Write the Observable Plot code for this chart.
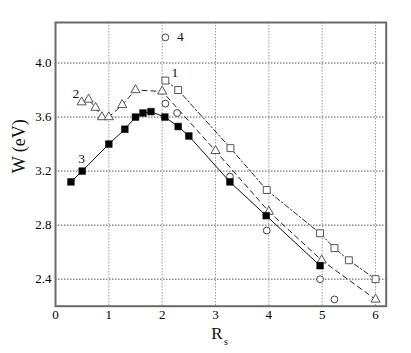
<!DOCTYPE html>
<html>
<head>
<meta charset="utf-8">
<script src="https://cdn.jsdelivr.net/npm/d3@7"></script>
<script src="https://cdn.jsdelivr.net/npm/@observablehq/plot@0.6"></script>
<style>
  html, body { margin: 0; padding: 0; background: white; }
  #chart svg, #chart svg text { font-family: "Liberation Serif", "Times New Roman", Times, serif !important; }
</style>
</head>
<body>
<div id="chart"></div>
<script>
// Series 1: open squares, dash-dot line
const R1 = [2.06, 2.30, 3.28, 3.96, 4.96, 5.23, 5.50, 6.00];
const W1 = [3.87, 3.80, 3.37, 3.06, 2.74, 2.63, 2.54, 2.40];
// Series 2: open triangles, dashed line
const R2 = [0.49, 0.62, 0.75, 0.87, 1.00, 1.25, 1.50, 2.00, 3.00, 4.00, 4.99, 6.00];
const W2 = [3.71, 3.73, 3.67, 3.60, 3.60, 3.69, 3.80, 3.79, 3.35, 2.90, 2.54, 2.25];
// Series 3: filled squares, solid line
const R3 = [0.29, 0.50, 1.00, 1.30, 1.50, 1.64, 1.79, 2.05, 2.30, 2.50, 3.27, 3.95, 4.96];
const W3 = [3.12, 3.20, 3.40, 3.51, 3.60, 3.63, 3.64, 3.60, 3.53, 3.46, 3.12, 2.87, 2.50];
// Series 4: open circles, no line
const R4 = [2.06, 2.06, 2.28, 3.27, 3.96, 4.96, 5.23];
const W4 = [4.19, 3.70, 3.63, 3.16, 2.76, 2.40, 2.25];

// Curve labels
const labelText = ["1", "2", "3", "4"];
const labelR = [2.24, 0.38, 0.49, 2.34];
const labelW = [3.93, 3.77, 3.29, 4.195];

// Axis ticks
const xTicks = [0, 1, 2, 3, 4, 5, 6];
const yTicks = [2.4, 2.8, 3.2, 3.6, 4.0];

const toRows = (R, W) => R.map((r, i) => ({r, w: W[i]}));
const s1 = toRows(R1, W1), s2 = toRows(R2, W2), s3 = toRows(R3, W3), s4 = toRows(R4, W4);
const labels = labelText.map((t, i) => ({t, r: labelR[i], w: labelW[i]}));

const serif = "Liberation Serif, Times New Roman, serif";

const chart = Plot.plot({
  width: 411,
  height: 353,
  marginLeft: 55,
  marginRight: 25.3,
  marginTop: 22,
  marginBottom: 47.3,
  style: {fontFamily: serif, fontSize: "13px", background: "white", color: "black"},
  x: {domain: [0, 6.2], ticks: xTicks, tickSize: 0, tickPadding: 4, label: null, tickFormat: d => String(d)},
  y: {domain: [2.2, 4.3], ticks: yTicks, tickSize: 0, tickPadding: 4, label: null, tickFormat: d => d.toFixed(1)},
  marks: [
    Plot.ruleX(xTicks.filter(d => d > 0), {stroke: "#9a9a9a", strokeDasharray: "1.5,1.5", strokeWidth: 1}),
    Plot.ruleY(yTicks, {stroke: "#555", strokeDasharray: "1.5,1.5", strokeWidth: 1}),
    Plot.frame({stroke: "#6a6a6a", strokeWidth: 2}),
    Plot.line(s1, {x: "r", y: "w", stroke: "#222", strokeWidth: 1, strokeDasharray: "5,2.5,1.5,2.5"}),
    Plot.line(s2, {x: "r", y: "w", stroke: "#222", strokeWidth: 1, strokeDasharray: "5,4"}),
    Plot.line(s3, {x: "r", y: "w", stroke: "#111", strokeWidth: 1}),
    Plot.dot(s4, {x: "r", y: "w", symbol: "circle", r: 3.4, stroke: "#444", fill: "white", strokeWidth: 1}),
    Plot.dot(s2, {x: "r", y: "w", symbol: "triangle", r: 3.4, stroke: "#555", fill: "white", strokeWidth: 1}),
    Plot.dot(s1, {x: "r", y: "w", symbol: "square", r: 3.9, stroke: "#555", fill: "white", strokeWidth: 1}),
    Plot.dot(s3, {x: "r", y: "w", symbol: "square", r: 3.8, fill: "black", stroke: "black", strokeWidth: 0.5}),
    Plot.text(labels, {x: "r", y: "w", text: "t", fontSize: 13.5, fill: "#111"}),
    Plot.text(["W (eV)"], {frameAnchor: "left", dx: -36, dy: 9, rotate: -90, fontSize: 18, fill: "#111"}),
    Plot.text(["R"], {frameAnchor: "bottom", dx: -4, dy: 32.5, fontSize: 17, fill: "#111"}),
    Plot.text(["s"], {frameAnchor: "bottom", dx: 5, dy: 39, fontSize: 10, fill: "#111"})
  ]
});
document.getElementById("chart").appendChild(chart);
</script>
</body>
</html>
